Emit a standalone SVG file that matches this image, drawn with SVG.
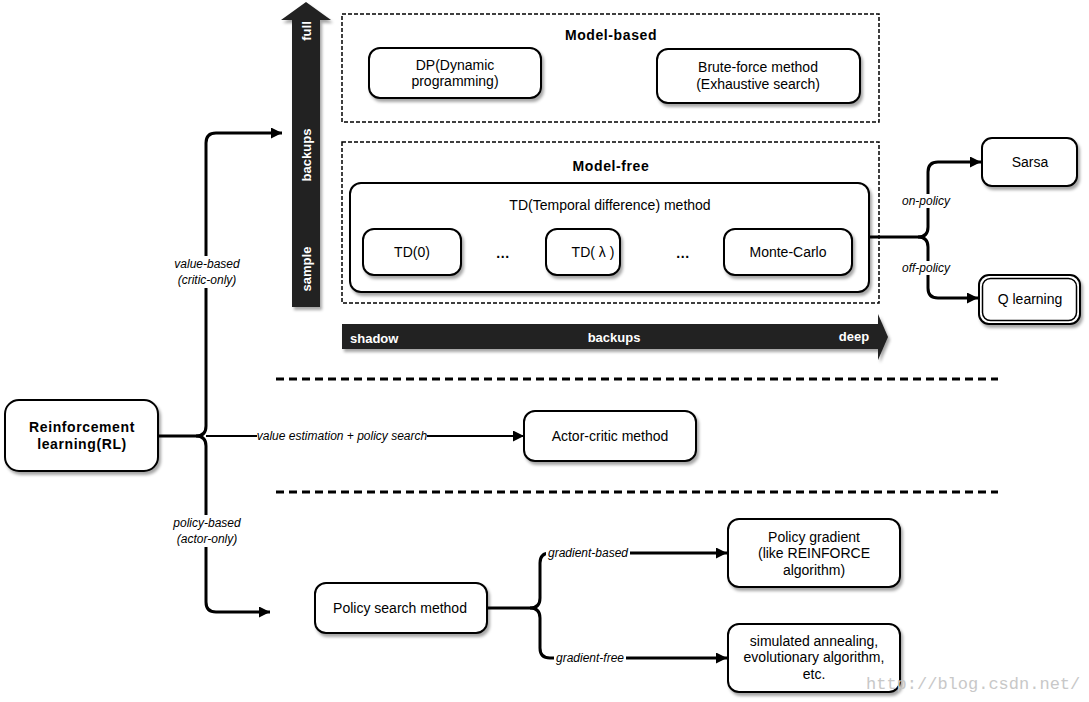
<svg xmlns="http://www.w3.org/2000/svg" width="1089" height="702" viewBox="0 0 1089 702">
<style>
.box{fill:#fff;stroke:#000;stroke-width:2;filter:url(#sh)}
.t{font-family:"Liberation Sans",Arial,sans-serif;font-size:14px;fill:#000;text-anchor:middle;dominant-baseline:central}
.b{font-weight:bold;letter-spacing:0.6px}
.i{font-family:"Liberation Sans",Arial,sans-serif;font-size:12px;font-style:italic;fill:#000;text-anchor:middle;dominant-baseline:central}
.w{font-family:"Liberation Sans",Arial,sans-serif;font-size:13px;font-weight:bold;fill:#fff;dominant-baseline:central}
.dash{fill:none;stroke:#000;stroke-width:1.5;stroke-dasharray:4 2}
.ln{fill:none;stroke:#000;stroke-width:3}
.ln2{fill:none;stroke:#000;stroke-width:2}
.lb{fill:#fff;stroke:none}
</style>
<defs>
<filter id="sh" x="-10%" y="-10%" width="130%" height="140%">
<feDropShadow dx="2" dy="3" stdDeviation="1.5" flood-color="#000" flood-opacity="0.35"/>
</filter>
<marker id="ah" viewBox="0 0 10 10" refX="10" refY="5" markerWidth="14" markerHeight="11" markerUnits="userSpaceOnUse" orient="auto">
<path d="M0,0 L10,5 L0,10 Z" fill="#000"/>
</marker>
</defs>
<rect width="1089" height="702" fill="#fff"/>

<!-- vertical axis arrow -->
<g id="axis-vertical" filter="url(#sh)">
<path d="M292,307 L292,20 L281,20 L306,2 L331,20 L320,20 L320,307 Z" fill="#222"/>
</g>
<text class="w" transform="translate(306,31) rotate(-90)" text-anchor="middle">full</text>
<text class="w" transform="translate(306,155) rotate(-90)" text-anchor="middle">backups</text>
<text class="w" transform="translate(306,269) rotate(-90)" text-anchor="middle">sample</text>

<!-- horizontal axis arrow -->
<g id="axis-horizontal" filter="url(#sh)">
<path d="M342,324 L878,324 L878,314 L888,337 L878,360 L878,349 L342,349 Z" fill="#222"/>
</g>
<text class="w" x="350" y="338">shadow</text>
<text class="w" x="614" y="337" text-anchor="middle">backups</text>
<text class="w" x="854" y="336" text-anchor="middle">deep</text>

<!-- dashed separators -->
<line x1="276" y1="379" x2="998" y2="379" stroke="#000" stroke-width="3" stroke-dasharray="8 5"/>
<line x1="276" y1="492" x2="998" y2="492" stroke="#000" stroke-width="3" stroke-dasharray="8 5"/>

<!-- Model-based -->
<g id="model-based">
<rect class="dash" x="342" y="14" width="537" height="108"/>
<text class="t b" x="611" y="35">Model-based</text>
</g>
<g id="dp">
<rect class="box" x="369" y="48" width="172" height="50" rx="11"/>
<text class="t" x="455" y="65">DP(Dynamic</text>
<text class="t" x="455" y="81">programming)</text>
</g>
<g id="brute-force">
<rect class="box" x="657" y="49" width="203" height="54" rx="11"/>
<text class="t" x="758" y="67">Brute-force method</text>
<text class="t" x="758" y="84">(Exhaustive search)</text>
</g>

<!-- Model-free -->
<g id="model-free">
<rect class="dash" x="342" y="142" width="537" height="161"/>
<text class="t b" x="611" y="166">Model-free</text>
</g>
<g id="td-method">
<rect class="box" x="350" y="183" width="519" height="109" rx="11"/>
<text class="t" x="610" y="205">TD(Temporal difference) method</text>
</g>
<g id="td0">
<rect class="box" x="363" y="229" width="98" height="46" rx="11"/>
<text class="t" x="412" y="252">TD(0)</text>
</g>
<text class="t b" x="503" y="253" font-size="16">...</text>
<g id="tdlambda">
<rect class="box" x="546" y="229" width="74" height="46" rx="11"/>
<text class="t" x="593" y="252">TD( λ )</text>
</g>
<text class="t b" x="683" y="253" font-size="16">...</text>
<g id="monte-carlo">
<rect class="box" x="724" y="229" width="128" height="46" rx="11"/>
<text class="t" x="788" y="252">Monte-Carlo</text>
</g>

<g id="sarsa">
<rect class="box" x="982" y="138" width="95" height="48" rx="10"/>
<text class="t" x="1030" y="162">Sarsa</text>
</g>
<g id="q-learning">
<rect class="box" x="979" y="275" width="101" height="49" rx="10"/>
<rect x="982.5" y="278.5" width="94" height="42" rx="8" fill="none" stroke="#000" stroke-width="1.5"/>
<text class="t" x="1030" y="299">Q learning</text>
</g>

<g id="rl">
<rect class="box" x="5" y="400" width="153" height="71" rx="14"/>
<text class="t b" x="82" y="427">Reinforcement</text>
<text class="t b" x="82" y="444">learning(RL)</text>
</g>
<g id="actor-critic">
<rect class="box" x="524" y="411" width="172" height="50" rx="11"/>
<text class="t" x="610" y="436">Actor-critic method</text>
</g>
<g id="policy-search">
<rect class="box" x="315" y="583" width="172" height="50" rx="11"/>
<text class="t" x="400" y="608">Policy search method</text>
</g>
<g id="policy-gradient">
<rect class="box" x="728" y="519" width="172" height="68" rx="11"/>
<text class="t" x="814" y="537">Policy gradient</text>
<text class="t" x="814" y="553">(like REINFORCE</text>
<text class="t" x="814" y="570">algorithm)</text>
</g>
<g id="gradient-free-methods">
<rect class="box" x="728" y="624" width="172" height="68" rx="11"/>
<text class="t" x="814" y="641">simulated annealing,</text>
<text class="t" x="814" y="657">evolutionary algorithm,</text>
<text class="t" x="814" y="674">etc.</text>
</g>

<!-- connectors -->
<g id="connectors">
<path class="ln" d="M158,436 L196,436 Q206,436 206,426 L206,143 Q206,133 216,133 L282,133" marker-end="url(#ah)"/>
<path class="ln" d="M196,436 Q206,436 206,446 L206,602 Q206,612 216,612 L270,612" marker-end="url(#ah)"/>
<path class="ln2" d="M206,436 L524,436" marker-end="url(#ah)"/>
<path class="ln" d="M869,237 L918,237 Q928,237 928,227 L928,172 Q928,162 938,162 L981,162" marker-end="url(#ah)"/>
<path class="ln" d="M918,237 Q928,237 928,247 L928,288 Q928,298 938,298 L978,298" marker-end="url(#ah)"/>
<path class="ln" d="M487,608 L530,608 Q540,608 540,598 L540,563 Q540,553 550,553 L727,553" marker-end="url(#ah)"/>
<path class="ln" d="M530,608 Q540,608 540,618 L540,648 Q540,658 550,658 L727,658" marker-end="url(#ah)"/>
</g>

<!-- connector labels -->
<rect class="lb" x="168" y="256" width="78" height="32"/>
<text class="i" x="207" y="264">value-based</text>
<text class="i" x="207" y="280">(critic-only)</text>
<rect class="lb" x="168" y="515" width="78" height="32"/>
<text class="i" x="207" y="523">policy-based</text>
<text class="i" x="207" y="539">(actor-only)</text>
<rect class="lb" x="257" y="429" width="170" height="14"/>
<text class="i" x="342" y="436">value estimation + policy search</text>
<rect class="lb" x="899" y="194" width="54" height="14"/>
<text class="i" x="926" y="201">on-policy</text>
<rect class="lb" x="899" y="261" width="54" height="14"/>
<text class="i" x="926" y="268">off-policy</text>
<rect class="lb" x="546" y="546" width="84" height="14"/>
<text class="i" x="588" y="553">gradient-based</text>
<rect class="lb" x="554" y="651" width="72" height="14"/>
<text class="i" x="590" y="658">gradient-free</text>

<text x="866" y="689" font-family="'Liberation Mono',monospace" font-size="17" fill="#c8c8c8">http://blog.csdn.net/</text>
</svg>
